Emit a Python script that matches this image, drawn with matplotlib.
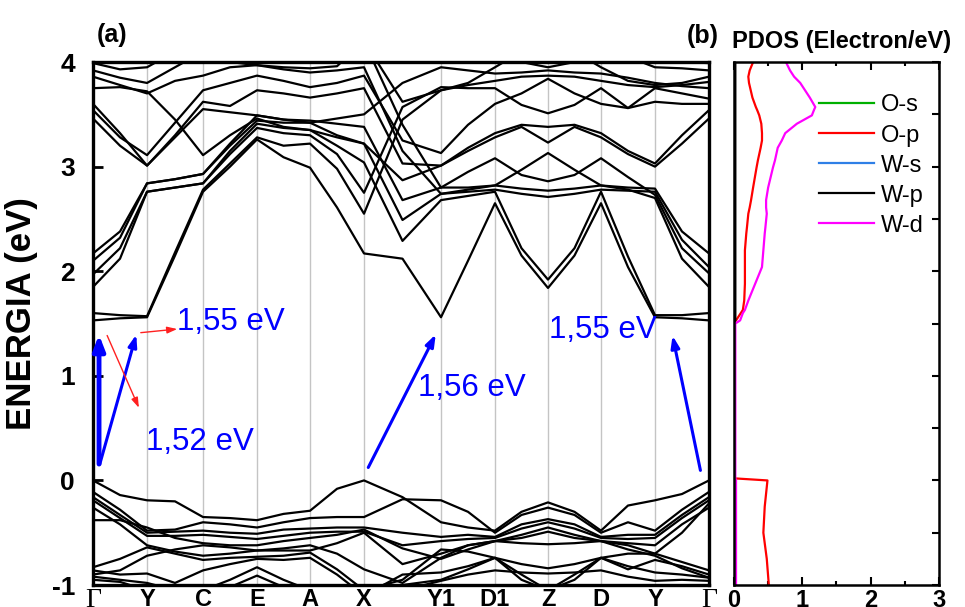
import numpy as np
import matplotlib
matplotlib.use("Agg")
import matplotlib.pyplot as plt

plt.rcParams['font.family'] = ['Liberation Sans', 'DejaVu Sans']

# high-symmetry points along the k-path
hs_labels = ['Γ', 'Y', 'C', 'E', 'A', 'X', 'Y1', 'D1', 'Z', 'D', 'Y', 'Γ']
hs_k = [0.0, 0.54, 1.10, 1.64, 2.17, 2.71, 3.48, 4.02, 4.55, 5.08, 5.62, 6.16]

# bands sampled at each high-symmetry point and at the middle of every segment (eV)
cond_bands = [
    [1.53, 1.55, 1.56, 2.15, 2.76, 3.00, 3.26, 3.09, 2.99, 2.61, 2.17, 2.12, 1.56, 2.10, 2.65, 2.15, 1.84, 2.15, 2.65, 2.04, 1.56, 1.55, 1.53],
    [1.60, 1.58, 1.57, 2.18, 2.78, 3.03, 3.28, 3.20, 3.22, 2.98, 2.55, 3.45, 3.73, 3.78, 3.82, 3.86, 3.87, 3.86, 3.82, 3.78, 3.76, 3.78, 3.81],
    [1.85, 2.12, 2.76, 2.80, 2.84, 3.12, 3.37, 3.32, 3.30, 3.12, 2.75, 3.57, 3.76, 3.75, 3.75, 3.59, 3.51, 3.59, 3.75, 3.56, 3.75, 3.70, 3.65],
    [1.97, 2.22, 2.76, 2.80, 2.84, 3.15, 3.41, 3.37, 3.35, 3.20, 3.04, 2.29, 2.68, 2.72, 2.76, 2.22, 1.92, 2.22, 2.76, 2.14, 1.58, 1.58, 1.60],
    [2.10, 2.32, 2.84, 2.88, 2.93, 3.20, 3.44, 3.42, 3.42, 3.30, 3.22, 2.49, 2.74, 2.78, 2.82, 2.97, 3.13, 2.97, 2.82, 2.78, 2.70, 2.12, 1.85],
    [2.17, 2.38, 2.84, 2.88, 2.93, 3.22, 3.49, 3.45, 3.44, 3.41, 3.38, 2.68, 2.80, 2.95, 3.08, 2.92, 2.86, 2.92, 3.08, 2.90, 2.73, 2.22, 1.98],
    [3.46, 3.20, 3.01, 3.30, 3.62, 3.58, 3.73, 3.70, 3.66, 3.70, 3.75, 3.03, 3.01, 3.15, 3.28, 3.38, 3.23, 3.38, 3.28, 3.12, 3.00, 3.22, 3.46],
    [3.54, 3.28, 3.11, 3.42, 3.73, 3.80, 3.87, 3.82, 3.76, 3.80, 3.87, 3.25, 3.13, 3.40, 3.60, 3.70, 3.84, 3.70, 3.60, 3.56, 3.62, 3.60, 3.60],
    [3.60, 3.32, 3.01, 3.28, 3.55, 3.52, 3.49, 3.45, 3.42, 3.46, 3.50, 3.80, 3.95, 3.92, 3.89, 3.90, 3.92, 3.90, 3.89, 3.85, 3.80, 3.77, 3.75],
    [3.75, 3.76, 3.72, 3.45, 3.11, 3.30, 3.46, 3.38, 3.35, 3.28, 3.22, 2.87, 3.01, 3.18, 3.32, 3.40, 3.38, 3.40, 3.32, 3.15, 3.03, 3.30, 3.54],
    [3.86, 3.78, 3.70, 3.82, 3.87, 3.95, 3.97, 3.95, 3.94, 3.96, 4.20, 3.62, 3.73, 3.80, 3.95, 4.10, 4.20, 4.10, 3.95, 3.82, 3.78, 3.80, 3.86],
    [3.92, 3.85, 3.80, 3.95, 4.10, 4.20, 4.20, 4.10, 4.05, 4.10, 4.30, 4.10, 4.30, 4.20, 4.10, 4.00, 3.95, 4.00, 4.10, 4.05, 3.95, 3.94, 3.92],
    [3.99, 3.93, 3.95, 4.10, 4.20, 4.20, 4.20, 4.20, 4.20, 4.20, 4.20, 4.20, 4.20, 4.20, 4.20, 4.20, 4.20, 4.20, 4.20, 4.20, 4.10, 4.00, 3.99],
    [4.20, 4.20, 4.20, 4.10, 4.05, 4.00, 3.97, 3.93, 3.90, 3.92, 3.95, 3.15, 2.74, 2.76, 2.78, 2.74, 2.71, 2.74, 2.78, 2.77, 2.76, 2.30, 2.04],
    [4.20, 4.20, 4.20, 4.20, 4.20, 4.20, 4.20, 4.20, 4.20, 4.20, 4.20, 3.40, 2.80, 2.80, 2.82, 2.79, 2.77, 2.79, 2.82, 2.80, 2.79, 2.38, 2.17],
]

val_bands = [
    [0.00, -0.14, -0.19, -0.20, -0.35, -0.36, -0.38, -0.32, -0.29, -0.08, 0.00, -0.16, -0.40, -0.45, -0.48, -0.30, -0.21, -0.30, -0.48, -0.24, -0.19, -0.13, 0.00],
    [-0.11, -0.28, -0.48, -0.47, -0.40, -0.42, -0.45, -0.40, -0.36, -0.35, -0.35, -0.18, -0.19, -0.30, -0.50, -0.33, -0.26, -0.33, -0.50, -0.40, -0.48, -0.28, -0.11],
    [-0.16, -0.33, -0.50, -0.49, -0.48, -0.50, -0.51, -0.47, -0.46, -0.45, -0.45, -0.50, -0.54, -0.52, -0.54, -0.42, -0.37, -0.42, -0.54, -0.52, -0.52, -0.33, -0.16],
    [-0.19, -0.36, -0.53, -0.53, -0.52, -0.54, -0.56, -0.53, -0.50, -0.49, -0.49, -0.62, -0.58, -0.56, -0.55, -0.46, -0.40, -0.46, -0.55, -0.56, -0.55, -0.36, -0.19],
    [-0.26, -0.42, -0.62, -0.68, -0.72, -0.70, -0.67, -0.67, -0.67, -0.60, -0.50, -0.80, -0.70, -0.62, -0.58, -0.52, -0.45, -0.52, -0.58, -0.60, -0.62, -0.42, -0.26],
    [-0.38, -0.38, -0.45, -0.55, -0.60, -0.62, -0.62, -0.58, -0.55, -0.52, -0.47, -0.65, -0.75, -0.66, -0.58, -0.55, -0.49, -0.55, -0.58, -0.62, -0.70, -0.50, -0.22],
    [-0.83, -0.75, -0.64, -0.70, -0.76, -0.74, -0.73, -0.72, -0.69, -0.85, -1.05, -0.95, -0.66, -0.68, -0.74, -0.90, -1.05, -0.90, -0.74, -0.70, -0.70, -0.78, -0.86],
    [-0.86, -0.90, -0.89, -0.98, -0.86, -0.80, -0.75, -0.76, -0.74, -0.90, -1.10, -1.00, -0.95, -0.85, -0.74, -0.80, -0.84, -0.80, -0.74, -0.85, -0.76, -0.82, -0.90],
    [-0.92, -0.95, -0.98, -1.05, -1.05, -0.95, -0.83, -0.95, -1.05, -1.10, -1.10, -0.90, -0.88, -0.82, -0.74, -0.95, -1.05, -0.95, -0.74, -0.82, -0.88, -0.90, -0.93],
    [-0.95, -0.97, -1.05, -1.10, -1.10, -1.02, -0.91, -1.02, -1.10, -1.10, -1.10, -1.05, -0.96, -0.90, -0.86, -0.88, -0.89, -0.88, -0.86, -0.92, -0.96, -0.95, -0.96],
    [-0.90, -0.86, -0.72, -0.66, -0.62, -0.64, -0.67, -0.65, -0.62, -0.70, -0.85, -0.98, -0.74, -0.62, -0.58, -0.60, -0.61, -0.60, -0.58, -0.66, -0.72, -0.84, -0.93],
]

# projected DOS (energy in eV, states in electron/eV)
pdos_e = [-1.0, -0.75, -0.5, -0.25, 0.0, 0.02, 1.50, 1.53, 1.60, 1.63, 1.72, 1.88, 2.04, 2.20, 2.36, 2.42, 2.55, 2.61,
          2.68, 2.80, 2.99, 3.06, 3.18, 3.25, 3.32, 3.41, 3.49, 3.54, 3.57, 3.66, 3.80, 3.86, 3.92, 4.0]
op_dos = [0.51, 0.48, 0.43, 0.45, 0.49, 0.0, 0.0, 0.03, 0.10, 0.13, 0.15, 0.16, 0.16, 0.16, 0.18, 0.19, 0.21, 0.23,
          0.25, 0.28, 0.33, 0.35, 0.39, 0.41, 0.41, 0.40, 0.37, 0.34, 0.32, 0.27, 0.22, 0.21, 0.23, 0.28]
wd_dos = [0.03, 0.03, 0.03, 0.03, 0.03, 0.02, 0.02, 0.09, 0.13, 0.16, 0.21, 0.31, 0.41, 0.43, 0.45, 0.46, 0.48, 0.47,
          0.47, 0.50, 0.57, 0.60, 0.64, 0.70, 0.75, 0.92, 1.14, 1.17, 1.19, 1.11, 0.97, 0.88, 0.82, 0.76]
wp_dos = [0.0, 0.0, 0.0, 0.0, 0.0, 0.0, 0.0, 0.02, 0.02, 0.02, 0.02, 0.02, 0.02, 0.02, 0.02, 0.02, 0.02, 0.02,
          0.02, 0.02, 0.02, 0.02, 0.02, 0.02, 0.02, 0.02, 0.02, 0.02, 0.02, 0.02, 0.02, 0.02, 0.02, 0.02]
zero_dos = [0.0] * len(pdos_e)

# k-sampling: every high-symmetry point plus segment midpoints
kgrid = []
for i in range(len(hs_k) - 1):
    kgrid += [hs_k[i], (hs_k[i] + hs_k[i + 1]) / 2]
kgrid.append(hs_k[-1])
kgrid = np.array(kgrid)

fig = plt.figure(figsize=(9.65, 6.07), dpi=100)
ax = fig.add_axes([0.0964, 0.0362, 0.6383, 0.8616])
ax2 = fig.add_axes([0.7606, 0.0362, 0.2124, 0.8616])

for k in hs_k[1:-1]:
    ax.axvline(k, color='#c4c4c4', lw=1.0, zorder=1)

for band in cond_bands + val_bands:
    ax.plot(kgrid, band, color='black', lw=1.6, zorder=2, solid_joinstyle='round')

ax.set_xlim(hs_k[0], hs_k[-1])
ax.set_ylim(-1, 4)
ax.set_xticks(hs_k)
ax.set_xticklabels(hs_labels)
for lab in ax.get_xticklabels():
    lab.set_fontweight('bold')
    lab.set_fontsize(17)
    if lab.get_text() == 'Γ':
        lab.set_family('Liberation Serif')
        lab.set_fontweight('normal')
        lab.set_fontsize(20)
ax.tick_params(axis='x', length=0, pad=2)
ax.set_yticks([-1, 0, 1, 2, 3, 4])
ax.set_yticklabels(['-1', '0', '1', '2', '3', '4'], fontsize=19, fontweight='bold')
ax.tick_params(axis='y', direction='in', length=7, width=2, pad=13)
for s in ax.spines.values():
    s.set_linewidth(2.4)
ax.set_ylabel('ENERGIA (eV)', fontsize=25, fontweight='bold')
ax.yaxis.set_label_coords(-0.089, 0.52)
ax.text(0.006, 1.028, '(a)', transform=ax.transAxes, fontsize=18, fontweight='bold', ha='left', va='bottom')

# transition arrows and gap labels
blue = '#0000ff'
red = '#ff2020'
ax.annotate('', xy=(0.06, 1.42), xytext=(0.06, 0.13),
            arrowprops=dict(arrowstyle='-|>,head_length=0.9,head_width=0.35', color=blue, lw=3.5))
ax.annotate('', xy=(0.44, 1.42), xytext=(0.06, 0.13),
            arrowprops=dict(arrowstyle='-|>,head_length=0.7,head_width=0.25', color=blue, lw=2.2))
ax.annotate('', xy=(0.87, 1.45), xytext=(0.45, 1.41),
            arrowprops=dict(arrowstyle='-|>,head_length=0.6,head_width=0.2', color=red, lw=1.0))
ax.annotate('', xy=(0.47, 0.67), xytext=(0.13, 1.41),
            arrowprops=dict(arrowstyle='-|>,head_length=0.6,head_width=0.2', color=red, lw=1.0))
ax.annotate('', xy=(3.44, 1.42), xytext=(2.74, 0.10),
            arrowprops=dict(arrowstyle='-|>,head_length=0.7,head_width=0.25', color=blue, lw=2.2))
ax.annotate('', xy=(5.79, 1.41), xytext=(6.08, 0.07),
            arrowprops=dict(arrowstyle='-|>,head_length=0.7,head_width=0.25', color=blue, lw=2.2))
ax.text(0.84, 1.51, '1,55 eV', color=blue, fontsize=22.5, va='center', ha='left')
ax.text(0.53, 0.37, '1,52 eV', color=blue, fontsize=22.5, va='center', ha='left')
ax.text(3.25, 0.88, '1,56 eV', color=blue, fontsize=22.5, va='center', ha='left')
ax.text(4.56, 1.44, '1,55 eV', color=blue, fontsize=22.5, va='center', ha='left')

# PDOS panel
ax2.plot(zero_dos, pdos_e, color='#00b000', lw=1.6, label='O-s')
ax2.plot(op_dos, pdos_e, color='#ff0000', lw=1.6, label='O-p')
ax2.plot(zero_dos, pdos_e, color='#2f7fe6', lw=1.6, label='W-s')
ax2.plot(wp_dos, pdos_e, color='black', lw=1.6, label='W-p')
ax2.plot(wd_dos, pdos_e, color='#ff00ff', lw=1.6, label='W-d')
ax2.set_xlim(0, 3)
ax2.set_ylim(-1, 4)
ax2.set_xticks([0, 1, 2, 3])
ax2.set_xticks([0.5, 1.5, 2.5], minor=True)
ax2.set_xticklabels(['0', '1', '2', '3'], fontsize=17, fontweight='bold')
ax2.set_yticks(np.arange(-1, 4.01, 0.5))
ax2.set_yticklabels([])
ax2.tick_params(axis='both', which='both', direction='in', top=True, right=True, width=1.5)
ax2.tick_params(axis='y', length=5, left=False)
ax2.tick_params(axis='x', which='major', length=6, pad=3)
ax2.tick_params(axis='x', which='minor', length=3)
for s in ax2.spines.values():
    s.set_linewidth(1.8)
ax2.legend(loc='upper left', bbox_to_anchor=(0.37, 0.956), frameon=False, fontsize=17,
           handlelength=2.3, handletextpad=0.3, labelspacing=0.34, borderaxespad=0)
fig.text(0.712, 0.94, '(b)', fontsize=18, fontweight='bold', ha='left', va='center')
fig.text(0.759, 0.931, 'PDOS (Electron/eV)', fontsize=17, fontweight='bold', ha='left', va='center')

fig.savefig('out.png', dpi=100)
